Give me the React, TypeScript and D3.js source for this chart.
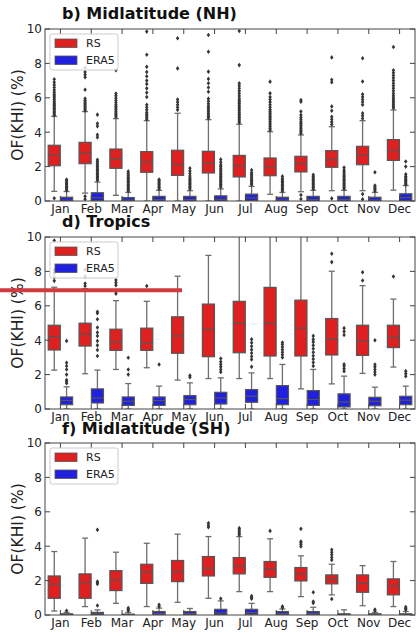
import React from 'react';
import * as d3 from 'd3';

// Monthly occurrence frequency of KHI, radiosonde (RS) vs ERA5.
const months = ['Jan', 'Feb', 'Mar', 'Apr', 'May', 'Jun', 'Jul', 'Aug', 'Sep', 'Oct', 'Nov', 'Dec'];
const seriesNames = ['RS', 'ERA5'];
const yTicks = [0, 2, 4, 6, 8, 10];

// Box statistics per month: [lower whisker, Q1, median, Q3, upper whisker]
const nhRsStats = [
  [0.56, 2.05, 2.67, 3.24, 4.92], [0.46, 2.17, 2.79, 3.41, 5.2], [0.33, 1.9, 2.46, 3.02, 4.79],
  [0.0, 1.67, 2.27, 2.87, 4.67], [0.0, 1.49, 2.13, 2.95, 5.1], [0.0, 1.63, 2.2, 2.89, 4.73],
  [0.0, 1.4, 2.05, 2.65, 4.46], [0.39, 1.47, 2.01, 2.5, 4.03], [0.54, 1.69, 2.17, 2.6, 3.84],
  [0.6, 1.96, 2.4, 2.93, 4.32], [0.6, 2.11, 2.67, 3.18, 4.67], [0.63, 2.36, 2.95, 3.57, 5.29],
];
const nhRsOutliers = [
  [0.16, 4.98, 5.06, 5.14, 5.22, 5.3, 5.38, 5.46, 5.54, 5.62, 5.7, 5.8, 5.9, 6.0, 6.1, 6.2, 6.32, 6.45, 6.6, 6.75, 6.9, 7.08],
  [0.1, 0.27, 5.25, 5.33, 5.41, 5.5, 5.58, 5.66, 5.75, 5.85, 5.95, 6.47, 7.2, 7.35, 7.5, 7.75],
  [4.88, 4.96, 5.04, 5.12, 5.2, 5.3, 5.4, 5.5, 5.6, 5.72, 5.85, 5.98, 6.12, 6.25, 7.6],
  [4.75, 4.85, 4.95, 5.05, 5.15, 5.3, 5.45, 5.6, 6.05, 6.3, 6.55, 6.8, 7.0, 7.25, 7.5, 7.8, 8.5, 9.85],
  [5.3, 5.45, 5.6, 5.75, 5.9, 7.71, 9.46],
  [4.82, 4.92, 5.02, 5.12, 5.22, 5.32, 5.42, 5.52, 5.65, 5.8, 5.95, 6.35, 6.6, 6.85, 7.1, 7.52, 8.68, 9.65],
  [4.55, 4.65, 4.75, 4.85, 4.95, 5.05, 5.15, 5.25, 5.35, 5.45, 5.55, 5.65, 5.75, 5.85, 5.95, 6.1, 6.25, 6.4, 6.55, 6.7, 6.84, 7.9, 9.88],
  [4.12, 4.22, 4.32, 4.42, 4.52, 4.62, 4.72, 4.82, 4.92, 5.02, 5.12, 5.22, 5.32, 5.45, 5.6, 5.75, 5.9, 6.05, 6.26, 6.94],
  [0.12, 0.35, 3.93, 4.02, 4.11, 4.2, 4.3, 4.4, 4.5, 4.6, 4.72, 4.85, 5.0, 5.2, 5.77, 5.87],
  [0.15, 4.45, 4.6, 4.75, 4.9, 5.25, 5.5, 6.9, 7.05, 8.35],
  [0.1, 0.4, 4.8, 4.95, 5.1, 5.6, 5.75, 5.9, 6.05, 6.2, 6.95, 8.3],
  [5.4, 5.5, 5.6, 5.7, 5.8, 5.9, 6.0, 6.12, 6.25, 6.4, 6.55, 6.7, 6.85, 7.0, 7.15, 7.3, 7.45, 7.6, 8.95],
];
const nhEraStats = [
  [0, 0, 0.05, 0.22, 0.55], [0, 0.02, 0.19, 0.48, 1.1], [0, 0, 0.05, 0.2, 0.5],
  [0, 0, 0.08, 0.27, 0.62], [0, 0, 0.08, 0.27, 0.6], [0, 0, 0.1, 0.3, 0.7],
  [0, 0.03, 0.18, 0.4, 0.85], [0, 0, 0.06, 0.22, 0.5], [0, 0, 0.08, 0.27, 0.62],
  [0, 0, 0.08, 0.27, 0.62], [0, 0, 0.05, 0.22, 0.5], [0, 0.03, 0.2, 0.42, 0.9],
];
const nhEraOutliers = [
  [0.62, 0.7, 0.78, 0.86, 0.94, 1.02, 1.1, 1.18, 1.25],
  [1.2, 1.28, 1.36, 1.44, 1.52, 1.6, 1.68, 1.76, 1.84, 1.92, 2.0, 2.1, 2.2, 2.3, 2.4, 3.7, 3.85, 4.35, 4.5, 5.02],
  [0.58, 0.66, 0.74, 0.82, 0.9, 0.98, 1.06, 1.14, 1.22, 1.3, 1.4, 1.5, 1.6, 1.72],
  [0.7, 0.78, 0.86, 0.94, 1.02, 1.1, 1.18, 1.25],
  [0.7, 0.78, 0.86, 0.94, 1.02, 1.1, 1.18, 1.26, 1.34, 1.45, 1.6, 1.75, 1.9],
  [0.8, 0.88, 0.96, 1.04, 1.12, 1.2, 1.28, 1.36, 1.44, 1.52, 1.6, 1.7, 1.8, 1.9, 2.0, 2.1, 2.25, 2.42],
  [0.95, 1.03, 1.11, 1.19, 1.27, 1.35, 1.45, 1.55, 1.65, 1.8],
  [0.58, 0.66, 0.74, 0.82, 0.9, 0.98, 1.06, 1.14, 1.22, 1.3, 1.43],
  [0.7, 0.78, 0.86, 0.94, 1.02, 1.1, 1.18, 1.26, 1.34, 1.42, 1.52],
  [0.7, 0.78, 0.86, 0.94, 1.02, 1.1, 1.18, 1.26, 1.34, 1.42, 1.5, 1.6, 1.7, 1.8, 1.95],
  [0.58, 0.66, 0.74, 0.82, 0.9, 1.67],
  [0.95, 1.03, 1.11, 1.19, 1.27, 1.35, 1.43, 1.55, 2.0, 2.3],
];

const trRsStats = [
  [2.26, 3.43, 4.21, 4.87, 7.08], [2.05, 3.66, 4.35, 4.99, 7.0], [2.3, 3.41, 3.9, 4.64, 6.3],
  [2.4, 3.41, 3.86, 4.7, 6.26], [1.68, 3.24, 4.25, 5.36, 7.72], [1.77, 3.04, 4.64, 6.1, 8.93],
  [1.77, 3.27, 4.97, 6.26, 10.5], [1.77, 3.08, 4.97, 7.07, 10.5], [1.17, 3.08, 4.7, 6.33, 10.5],
  [1.46, 3.14, 4.05, 5.26, 8.01], [2.07, 3.12, 3.96, 4.87, 7.17], [2.44, 3.57, 4.15, 4.87, 6.39],
];
const trRsOutliers = [
  [7.45, 7.65, 7.9, 8.1, 9.8], [7.15, 7.3, 7.7, 8.1], [6.7, 6.82, 7.2, 7.35, 7.5], [7.15], [], [],
  [], [], [], [8.54, 9.03], [7.47, 7.95], [7.7],
];
const trEraStats = [
  [0, 0.25, 0.5, 0.7, 1.29], [0, 0.35, 0.64, 1.17, 2.26], [0, 0.21, 0.45, 0.7, 1.48],
  [0, 0.21, 0.49, 0.7, 1.33], [0, 0.25, 0.55, 0.78, 1.52], [0, 0.29, 0.64, 0.97, 1.81],
  [0, 0.39, 0.74, 1.13, 2.1], [0, 0.25, 0.6, 1.36, 2.59], [0, 0.21, 0.55, 1.07, 2.3],
  [0, 0.12, 0.41, 0.88, 1.91], [0, 0.19, 0.45, 0.68, 1.27], [0, 0.25, 0.51, 0.74, 1.33],
];
const trEraOutliers = [
  [1.5, 1.6, 1.68, 2.0, 2.3, 2.5, 2.69, 3.96],
  [3.08, 3.43, 3.7, 3.96, 4.25, 4.45, 4.74, 5.22, 5.57, 5.65],
  [2.0, 2.3, 2.98],
  [2.59],
  [1.85, 1.95],
  [2.15, 2.3, 2.45, 2.6, 2.75, 2.94],
  [2.45, 2.88, 3.05, 3.25, 3.45, 3.65, 3.85, 4.05],
  [3.0, 3.15, 3.3, 3.45, 3.6, 3.75, 3.86],
  [2.5, 2.7, 2.9, 3.1, 3.3, 3.5, 3.7, 3.9, 4.05, 4.25],
  [2.2, 2.35, 2.5, 2.6, 4.3, 4.5, 4.7],
  [2.0, 2.15, 2.3, 2.45, 2.59, 4.0],
  [1.9, 2.05, 2.2],
];

const shRsStats = [
  [0.23, 0.97, 1.79, 2.27, 3.69], [0.49, 0.97, 1.9, 2.39, 4.47], [0.68, 1.42, 2.04, 2.58, 3.65],
  [0.49, 1.84, 2.49, 2.95, 4.17], [0.74, 1.94, 2.52, 3.17, 4.7], [0.97, 2.27, 2.72, 3.4, 4.56],
  [1.36, 2.39, 2.85, 3.34, 4.56], [1.36, 2.19, 2.68, 3.11, 4.43], [1.07, 1.98, 2.39, 2.76, 3.44],
  [1.17, 1.81, 2.1, 2.33, 2.95], [0.54, 1.32, 1.84, 2.33, 2.87], [0.49, 1.17, 1.69, 2.1, 3.11],
];
const shRsOutliers = [
  [], [], [], [], [], [5.1, 5.2, 5.34],
  [4.66, 4.75, 4.85, 4.95, 5.05], [4.89], [3.98, 4.1, 4.2, 4.27, 5.01],
  [0.93, 3.2, 3.35, 3.5, 3.65, 3.79], [], [],
];
const shEraStats = [
  [0, 0, 0.02, 0.07, 0.15], [0, 0.02, 0.07, 0.15, 0.3], [0, 0, 0.02, 0.05, 0.15],
  [0, 0.02, 0.08, 0.2, 0.4], [0, 0.02, 0.08, 0.2, 0.38], [0, 0.03, 0.12, 0.33, 0.82],
  [0, 0.05, 0.15, 0.33, 0.68], [0, 0.02, 0.08, 0.2, 0.35], [0, 0.02, 0.08, 0.2, 0.45],
  [0, 0, 0.02, 0.07, 0.3], [0, 0, 0.02, 0.07, 0.15], [0, 0, 0.02, 0.07, 0.2],
];
const shEraOutliers = [
  [0.25], [0.55, 1.8, 1.88, 1.95, 4.95], [0.25, 0.32, 0.4], [0.5, 0.6], [], [0.95],
  [0.95, 1.02, 1.1], [0.42, 0.5], [0.7, 0.78, 1.32], [], [0.25, 0.32], [0.3, 0.38, 0.46],
];

const W = 419;
const H = 636;
const LEFT = 45;
const RIGHT = 415;
const PANEL_H = 172;
const FONT = 'DejaVu Sans, sans-serif';
const COLORS = { RS: '#df2020', ERA5: '#2020df' };
const EDGE = '#555555';
const WHISKER = '#6e6e6e';

const panels = [
  { id: 'nh', title: 'b) Midlatitude (NH)', top: 29, titleGap: 10, rs: nhRsStats, rsOut: nhRsOutliers, era: nhEraStats, eraOut: nhEraOutliers },
  { id: 'tr', title: 'd) Tropics', top: 237, titleGap: 10.5, rs: trRsStats, rsOut: trRsOutliers, era: trEraStats, eraOut: trEraOutliers },
  { id: 'sh', title: 'f) Midlatitude (SH)', top: 443, titleGap: 9, rs: shRsStats, rsOut: shRsOutliers, era: shEraStats, eraOut: shEraOutliers },
];

const diamond = (cx: number, cy: number) =>
  `M${cx},${cy - 2.3}L${cx + 1.75},${cy}L${cx},${cy + 2.3}L${cx - 1.75},${cy}Z`;

function Panel({ cfg }: { cfg: typeof panels[number] }) {
  const bottom = cfg.top + PANEL_H;
  const x = d3.scaleBand<string>().domain(months).range([LEFT, RIGHT]);
  const bw = x.bandwidth();
  const hue = d3.scaleBand<string>().domain(seriesNames).range([bw * 0.1, bw * 0.9]);
  const y = d3.scaleLinear().domain([0, 10]).range([bottom, cfg.top]);
  const boxW = hue.bandwidth() * 0.98;
  const capW = boxW * 0.5;
  const clipId = `clip-${cfg.id}`;

  const groups = seriesNames.map((name) => ({
    name,
    stats: name === 'RS' ? cfg.rs : cfg.era,
    outliers: name === 'RS' ? cfg.rsOut : cfg.eraOut,
  }));

  return (
    <g>
      <defs>
        <clipPath id={clipId}>
          <rect x={LEFT} y={cfg.top} width={RIGHT - LEFT} height={PANEL_H} />
        </clipPath>
      </defs>
      <text x={62} y={cfg.top - cfg.titleGap} fontFamily={FONT} fontWeight="bold" fontSize={16} fill="#111">
        {cfg.title}
      </text>
      <g clipPath={`url(#${clipId})`}>
        {groups.map((g) =>
          months.map((m, i) => {
            const [lo, q1, med, q3, hi] = g.stats[i];
            const cx = (x(m) as number) + (hue(g.name) as number) + hue.bandwidth() / 2;
            return (
              <g key={`${g.name}-${m}`}>
                <line x1={cx} x2={cx} y1={y(q1)} y2={y(lo)} stroke={WHISKER} strokeWidth={1.3} />
                <line x1={cx} x2={cx} y1={y(q3)} y2={y(hi)} stroke={WHISKER} strokeWidth={1.3} />
                <line x1={cx - capW / 2} x2={cx + capW / 2} y1={y(lo)} y2={y(lo)} stroke={WHISKER} strokeWidth={1.3} />
                <line x1={cx - capW / 2} x2={cx + capW / 2} y1={y(hi)} y2={y(hi)} stroke={WHISKER} strokeWidth={1.3} />
                <rect
                  x={cx - boxW / 2}
                  y={y(q3)}
                  width={boxW}
                  height={Math.max(y(q1) - y(q3), 0.5)}
                  fill={COLORS[g.name as 'RS' | 'ERA5']}
                  stroke={EDGE}
                  strokeWidth={1.2}
                />
                <line x1={cx - boxW / 2} x2={cx + boxW / 2} y1={y(med)} y2={y(med)} stroke={EDGE} strokeWidth={1.2} />
                {g.outliers[i].map((v, k) => (
                  <path key={k} d={diamond(cx, y(v))} fill="#363636" />
                ))}
              </g>
            );
          })
        )}
      </g>
      {/* frame */}
      <rect x={LEFT} y={cfg.top} width={RIGHT - LEFT} height={PANEL_H} fill="none" stroke="#444" strokeWidth={1} />
      {/* inward ticks */}
      {yTicks.map((t) => (
        <g key={`yt${t}`}>
          <line x1={LEFT} x2={LEFT + 5} y1={y(t)} y2={y(t)} stroke="#444" />
          <line x1={RIGHT - 5} x2={RIGHT} y1={y(t)} y2={y(t)} stroke="#444" />
          <text x={LEFT - 3} y={y(t)} dy="0.36em" textAnchor="end" fontFamily={FONT} fontSize={12} fill="#222">
            {t}
          </text>
        </g>
      ))}
      {months.map((m) => {
        const cx = (x(m) as number) + bw / 2;
        return (
          <g key={`xt${m}`}>
            <line x1={cx} x2={cx} y1={cfg.top} y2={cfg.top + 5} stroke="#444" />
            <line x1={cx} x2={cx} y1={bottom} y2={bottom - 5} stroke="#444" />
            <text x={cx} y={bottom + 11.5} textAnchor="middle" fontFamily={FONT} fontSize={12} fill="#222">
              {m}
            </text>
          </g>
        );
      })}
      <text
        transform={`translate(23,${(cfg.top + bottom) / 2}) rotate(-90)`}
        textAnchor="middle"
        fontFamily={FONT}
        fontSize={15.5}
        fill="#222"
      >
        OF(KHI) (%)
      </text>
      {/* legend */}
      <g transform={`translate(50,${cfg.top + 5})`}>
        <rect x={0} y={0} width={68} height={36} rx={2} fill="#fff" fillOpacity={0.8} stroke="#cccccc" />
        {seriesNames.map((name, k) => (
          <g key={name} transform={`translate(0,${k * 17})`}>
            <rect x={5} y={5} width={22} height={8.5} fill={COLORS[name as 'RS' | 'ERA5']} stroke={EDGE} strokeWidth={0.8} />
            <text x={36} y={13} fontFamily={FONT} fontSize={11} fill="#222">
              {name}
            </text>
          </g>
        ))}
      </g>
    </g>
  );
}

export default function App() {
  const trop = panels[1];
  const yTrop = d3.scaleLinear().domain([0, 10]).range([trop.top + PANEL_H, trop.top]);
  return (
    <svg width={W} height={H} style={{ position: 'absolute', left: 0, top: 0, background: '#fff' }}>
      <rect width={W} height={H} fill="#fff" />
      {panels.map((p) => (
        <Panel key={p.id} cfg={p} />
      ))}
      <line x1={0} x2={182} y1={yTrop(6.9)} y2={yTrop(6.9)} stroke="#d13a3f" strokeWidth={4} />
    </svg>
  );
}
